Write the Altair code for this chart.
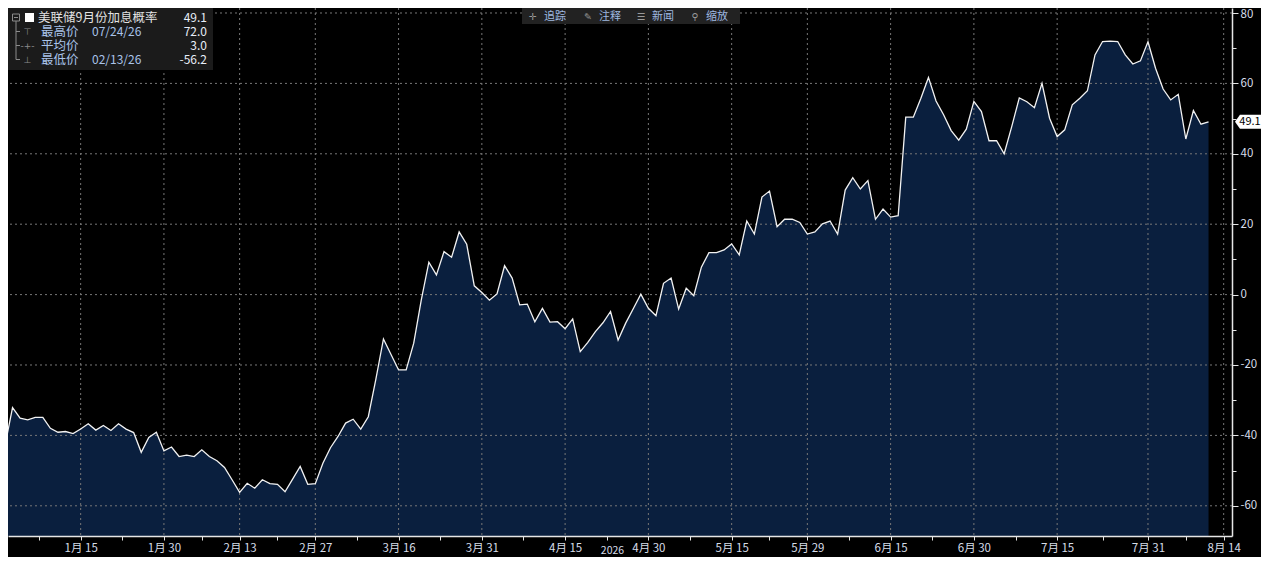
import json
import altair as alt
import pandas as pd

# ---------------- data ----------------
START = "2026-01-01"  # first trading day shown; one point per weekday
VALUES = [
    -42.9, -32.1, -35.1, -35.6, -34.9, -34.9, -38.0, -39.1, -38.9, -39.5,
    -38.2, -36.7, -38.5, -37.2, -38.6, -36.7, -38.2, -39.2, -44.8, -40.6,
    -39.1, -44.4, -43.3, -46.0, -45.6, -46.0, -44.1, -46.0, -47.2, -49.1,
    -52.6, -56.2, -53.6, -55.0, -52.6, -53.7, -53.9, -56.0, -52.4, -48.8,
    -53.9, -53.7, -47.9, -43.5, -40.3, -36.5, -35.4, -38.2, -34.7, -24.0,
    -12.6, -17.0, -21.4, -21.4, -13.8, -1.5, 9.2, 5.6, 12.2, 10.6,
    17.8, 14.3, 2.5, 0.6, -1.6, 0.2, 8.2, 4.7, -2.9, -2.7,
    -7.7, -3.9, -7.8, -7.7, -9.7, -6.9, -16.2, -13.6, -10.5, -8.0,
    -4.8, -12.9, -8.1, -4.0, 0.1, -3.9, -6.0, 3.2, 4.7, -4.1,
    1.8, -0.3, 7.8, 11.9, 11.9, 12.7, 14.4, 11.3, 20.9, 17.2,
    27.7, 29.4, 19.3, 21.4, 21.4, 20.5, 17.2, 17.8, 20.1, 20.9,
    17.2, 29.7, 33.2, 30.0, 32.4, 21.4, 24.3, 22.0, 22.4, 50.4,
    50.4, 55.8, 61.7, 55.0, 51.1, 46.6, 43.9, 47.0, 54.9, 52.0,
    43.7, 43.7, 40.0, 47.7, 55.9, 54.8, 53.1, 60.0, 50.1, 44.9,
    46.8, 53.9, 55.8, 57.9, 68.1, 71.9, 72.0, 71.9, 68.1, 65.5,
    66.4, 71.8, 64.3, 58.4, 55.3, 56.9, 44.2, 52.3, 48.4, 49.1,
]
TICK_DATES = [
    "2026-01-15", "2026-01-30", "2026-02-13", "2026-02-27", "2026-03-16",
    "2026-03-31", "2026-04-15", "2026-04-30", "2026-05-15", "2026-05-29",
    "2026-06-15", "2026-06-30", "2026-07-15", "2026-07-31", "2026-08-14",
]
TICK_LABELS = [
    "1月 15", "1月 30", "2月 13", "2月 27", "3月 16", "3月 31", "4月 15",
    "4月 30", "5月 15", "5月 29", "6月 15", "6月 30", "7月 15", "7月 31", "8月 14",
]
YEAR_LABEL = "2026"
Y_MAJOR = [-60, -40, -20, 0, 20, 40, 60, 80]
Y_MINOR = [-50, -30, -10, 10, 30, 50, 70]
SERIES_NAME = "美联储9月份加息概率"
SERIES_LAST = "49.1"
LEGEND_NAMES = ["最高价", "平均价", "最低价"]
LEGEND_DATES = ["07/24/26", "", "02/13/26"]
LEGEND_VALUES = ["72.0", "3.0", "-56.2"]
LEGEND_ICONS = ["⊤", "-+-", "⊥"]
TOOL_ICONS = ["✛", "✎", "☰", "⚲"]
TOOL_TEXTS = ["追踪", "注释", "新闻", "缩放"]

# ---------------- derived tables ----------------
bdays = pd.bdate_range(START, periods=220)
df = pd.DataFrame({
    "i": list(range(len(VALUES))),
    "date": bdays[: len(VALUES)].strftime("%Y-%m-%d"),
    "v": VALUES,
})
tick_idx = [int(bdays.get_loc(pd.Timestamp(d))) for d in TICK_DATES]
minor_idx = [tick_idx[0] - 5.5] + [(a + b) / 2 for a, b in zip(tick_idx[:-1], tick_idx[1:])]
last_df = pd.DataFrame({"v": [VALUES[-1]], "t": [SERIES_LAST]})
one = pd.DataFrame({"k": [0]})

# ---------------- style ----------------
FONT = "Noto Sans CJK SC"
BG = "#000000"
FILL = "#0a1f3e"
LINE = "#f2f2f2"
GRID = "#777777"
AXIS = "#e6e6e6"
LBL = "#d6dde8"
W, H = 1224, 528
YMIN, YMAX = -68.58, 81.42

XS = alt.Scale(domain=[0.4, 162.1], nice=False, zero=False)
YS = alt.Scale(domain=[YMIN, YMAX], nice=False, zero=False)

idx_js = json.dumps(tick_idx)
lab_js = json.dumps(TICK_LABELS, ensure_ascii=False)
x_axis = alt.Axis(
    values=tick_idx + minor_idx,
    grid=False,
    labelExpr=f"indexof({idx_js}, datum.value) < 0 ? '' : {lab_js}[indexof({idx_js}, datum.value)]",
    labelOverlap=False, labelFlush=False, labelBound=False,
    labelFont=FONT, labelFontSize=11.5, labelColor=LBL, labelPadding=2,
    tickSize=4, tickColor=AXIS, tickWidth=1,
    domainColor=AXIS, domainWidth=1.5,
    title=YEAR_LABEL, titleX=604, titleY=17, titleAlign="center",
    titleBaseline="alphabetic", titleFont=FONT, titleFontSize=10.5,
    titleFontWeight="normal", titleColor=LBL, zindex=1,
)
y_axis = alt.Axis(
    orient="right",
    values=sorted(Y_MAJOR + Y_MINOR),
    grid=False,
    labelExpr="datum.value % 20 === 0 ? '' + datum.value : ''",
    labelOverlap=False, labelFlush=False, labelBound=False,
    labelFont=FONT, labelFontSize=11.5, labelColor=LBL, labelPadding=2,
    labelOffset={"condition": {"test": "datum.value === 80", "value": 2}, "value": 0},
    tickSize={"condition": {"test": "datum.value % 20 !== 0", "value": 4}, "value": 6},
    tickColor=AXIS, tickWidth=1,
    domainColor=AXIS, domainWidth=1.5,
    title=None, zindex=1,
)


def X(field):
    return alt.X(field, scale=XS, axis=x_axis)


def Y(field):
    return alt.Y(field, scale=YS, axis=y_axis, stack=None)


area = alt.Chart(df).mark_area(color=FILL, clip=True).encode(
    x=X("i:Q"),
    y=Y("v:Q"),
    y2=alt.datum(YMIN),
)
hgrid = alt.Chart(pd.DataFrame({"v": Y_MAJOR})).mark_rule(
    color=GRID, strokeDash=[2, 3], strokeWidth=1
).encode(y=Y("v:Q"))
vgrid = alt.Chart(pd.DataFrame({"i": tick_idx})).mark_rule(
    color=GRID, strokeDash=[2, 3], strokeWidth=1
).encode(x=X("i:Q"))
line = alt.Chart(df).mark_line(color=LINE, strokeWidth=1.3, clip=True).encode(
    x=X("i:Q"),
    y=Y("v:Q"),
)


def txt(s, x, y, color, size=12, align="left", font=FONT):
    return alt.Chart(one).mark_text(
        align=align, baseline="middle", fontSize=size, font=font, color=color
    ).encode(x=alt.value(x), y=alt.value(y), text=alt.value(s))


def box(x0, x1, y0, y1, color, stroke=None):
    props = {"fill": color}
    if stroke:
        props.update(stroke=stroke, strokeWidth=1)
    return alt.Chart(one).mark_rect(**props).encode(
        x=alt.value(x0), x2=alt.value(x1), y=alt.value(y0), y2=alt.value(y1)
    )


def rule(x0, x1, y0, y1, color, width=1):
    return alt.Chart(one).mark_rule(color=color, strokeWidth=width).encode(
        x=alt.value(x0), x2=alt.value(x1), y=alt.value(y0), y2=alt.value(y1)
    )


layers = [area, hgrid, vgrid, line]

# legend box (top-left)
NAME_C = "#e2e2e2"
ROW_C = "#a9c3ea"
VAL_C = "#e8eef8"
TREE_C = "#8c8c8c"
rows_y = [9.5, 23.5, 37.5, 51.5]
layers += [box(0, 205, 0, 62, "#1b1b1b")]
layers += [rule(8, 8, 13, rows_y[3], TREE_C)]
for ry in rows_y[1:]:
    layers.append(rule(8, 12, ry, ry, TREE_C))
layers += [box(4.5, 11.5, 6, 13, "#1b1b1b", stroke=TREE_C)]
layers += [rule(6, 10, 9.5, 9.5, TREE_C)]
layers += [box(17, 26, 5, 14, "#ffffff")]
layers += [txt(SERIES_NAME, 30, rows_y[0], NAME_C, size=12.5)]
layers += [txt(SERIES_LAST, 199, rows_y[0], VAL_C, align="right")]
for k in range(3):
    ry = rows_y[k + 1]
    layers.append(txt(LEGEND_ICONS[k], 19.5, ry, TREE_C, size=9, align="center", font="DejaVu Sans"))
    layers.append(txt(LEGEND_NAMES[k], 33, ry, ROW_C, size=12.5))
    if LEGEND_DATES[k]:
        layers.append(txt(LEGEND_DATES[k], 84, ry, ROW_C))
    layers.append(txt(LEGEND_VALUES[k], 199, ry, VAL_C, align="right"))

# toolbar (top centre)
layers += [box(514, 732, 0, 16, "#222222")]
tool_x = [525, 580, 633, 687]
for k in range(4):
    layers.append(txt(TOOL_ICONS[k], tool_x[k], 9, "#9a9a9a", size=9.5, align="center", font="DejaVu Sans"))
    layers.append(txt(TOOL_TEXTS[k], tool_x[k] + 11, 9, "#9fb9e0", size=11))

# last-value tag on the right axis
TAG = "M-1,0L-0.62,-0.54L1,-0.54L1,0.54L-0.62,0.54Z"
layers += [
    alt.Chart(last_df).mark_point(shape=TAG, filled=True, color="#ffffff", size=676, opacity=1).encode(
        x=alt.value(1240), y=Y("v:Q")
    ),
    alt.Chart(last_df).mark_text(color="#000000", fontSize=11, font=FONT, align="center", baseline="middle").encode(
        x=alt.value(1242), y=Y("v:Q"), text="t:N"
    ),
]

chart = alt.layer(*layers).properties(
    width=W,
    height=H,
    padding={"left": 0, "top": 0, "right": 29, "bottom": 21},
    autosize=alt.AutoSizeParams(type="none"),
    background=BG,
).configure_view(stroke=None)

chart.save("out.html", embed_options={"renderer": "svg", "actions": False})
